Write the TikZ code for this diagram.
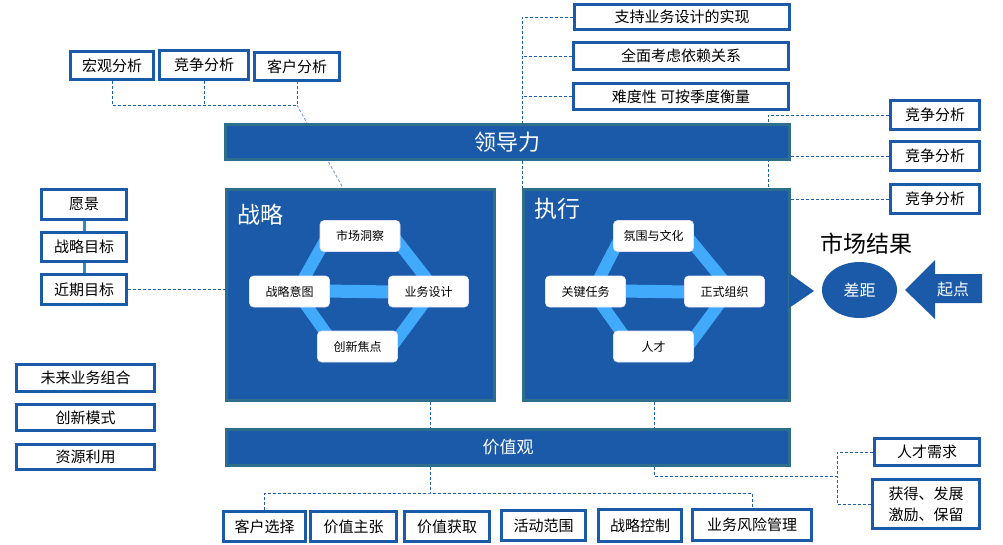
\documentclass[tikz,border=0pt]{standalone}
\usepackage{fontspec}
\setmainfont{Noto Sans CJK SC}
\usetikzlibrary{shapes.geometric}

\definecolor{lanse}{RGB}{26,90,168}
\definecolor{qingse}{RGB}{45,110,140}
\definecolor{qianlan}{RGB}{66,170,250}
\definecolor{xuxian}{RGB}{32,96,176}
\definecolor{xielan}{RGB}{100,150,215}
\definecolor{lianjie}{RGB}{46,139,192}

\pgfdeclarelayer{xuceng}
\pgfdeclarelayer{diceng}
\pgfdeclarelayer{daiceng}
\pgfsetlayers{xuceng,diceng,daiceng,main}

\begin{document}
\begin{tikzpicture}[
    x=1pt, y=-1pt,
    kuang/.style={draw=lanse, line width=3pt, fill=white, inner sep=0pt, align=center, font=\fontsize{15}{21}\selectfont},
    chicun/.style 2 args={minimum width=#1pt, minimum height=#2pt},
    tiao/.style={draw=qingse, line width=3pt, fill=lanse, text=white, inner sep=0pt},
    yuan/.style={fill=white, draw=blue!12, line width=0.6pt, rounded corners=4pt, inner sep=0pt, minimum width=80pt, minimum height=31pt, font=\fontsize{12}{14}\selectfont},
    dai/.style={qianlan, line width=12pt},
    xu/.style={xuxian, line width=0.8pt, dash pattern=on 3pt off 2pt},
    biaoti/.style={text=white, font=\fontsize{23}{26}\selectfont, anchor=west, inner sep=0pt}
  ]
    \useasboundingbox (0,0) rectangle (1003,544);

    % --- LEADERSHIP / STRATEGY / EXECUTION / VALUES ---
    \begin{pgfonlayer}{diceng}
    \node[tiao, chicun={564}{35}, font=\fontsize{22}{24}\selectfont] (ld) at (507.5,142) {领导力};
    \node[tiao, chicun={268}{211}] (zl) at (360.5,295) {};
    \node[tiao, chicun={266}{211}] (zx) at (656.5,295) {};
    \node[tiao, chicun={563}{36}, font=\fontsize{17}{20}\selectfont] (jzg) at (508,447.5) {价值观};
    \fill[lanse] (789,273) -- (814,291) -- (789,308) -- cycle; % arrow to market result
    \end{pgfonlayer}

    \node[biaoti] (zlbt) at (237,215) {战略};
    \node[biaoti] (zxbt) at (534,209) {执行};

    % inner loops
    \node[yuan] (sc) at (360,236) {市场洞察};
    \node[yuan] (yt) at (289.5,291.5) {战略意图};
    \node[yuan] (ys) at (428.5,291.5) {业务设计};
    \node[yuan] (cx) at (357.5,346.5) {创新焦点};

    \node[yuan] (fw) at (653.5,236) {氛围与文化};
    \node[yuan] (gj) at (585.5,291.5) {关键任务};
    \node[yuan] (zs) at (724.5,291.5) {正式组织};
    \node[yuan] (rc) at (653.5,346.5) {人才};

    \begin{pgfonlayer}{daiceng}
    \foreach \t/\l/\r/\b in {sc/yt/ys/cx, fw/gj/zs/rc} {
        \draw[dai] ([xshift=8pt]\t.west) -- ([xshift=7pt]\l.center);
        \draw[dai] ([xshift=-7pt]\t.east) -- ([xshift=8pt]\r.center);
        \draw[dai] ([xshift=7pt]\l.center) -- ([xshift=-22pt]\b.center);
        \draw[dai] ([xshift=4pt]\r.center) -- ([xshift=-6pt]\b.east);
        \draw[dai, line width=13pt] ([yshift=1pt]\l.center) -- ([yshift=-1pt]\r.center);
    }
    \end{pgfonlayer}

    % --- ANALYSIS BOXES (top left) ---
    \node[kuang, chicun={83}{28}] (hg) at (112,65.5) {宏观分析};
    \node[kuang, chicun={89}{29}] (jz) at (204,65) {竞争分析};
    \node[kuang, chicun={85}{28}] (kh) at (297,66.5) {客户分析};

    % --- DESIGN NOTES (top center) ---
    \node[kuang, chicun={215}{25}] (zc1) at (682,17) {支持业务设计的实现};
    \node[kuang, chicun={215}{27}] (zc2) at (681,56) {全面考虑依赖关系};
    \node[kuang, chicun={215}{26}] (zc3) at (681,96.5) {难度性\ 可按季度衡量};

    % right
    \foreach \i/\y in {1/115, 2/156, 3/199}
        \node[kuang, chicun={89}{29}] (jr\i) at (935,\y) {竞争分析};

    % --- GOALS (left) ---
    \node[kuang, chicun={85}{30}] (yj) at (84,204.5) {愿景};
    \node[kuang, chicun={85}{29}] (zm) at (84,247) {战略目标};
    \node[kuang, chicun={85}{30}] (jq) at (84,289.5) {近期目标};

    \node[kuang, chicun={138}{27}] (wl) at (85.5,378) {未来业务组合};
    \node[kuang, chicun={138}{26}] (cm) at (85.5,417.5) {创新模式};
    \node[kuang, chicun={138}{25}] (zy) at (85.5,457) {资源利用};

    % --- BUSINESS DESIGN ITEMS (bottom) ---
    \node[kuang, chicun={82}{30}] (kx) at (264.5,526.5) {客户选择};
    \node[kuang, chicun={86}{30}] (jzz) at (353.5,526.5) {价值主张};
    \node[kuang, chicun={85}{30}] (jzh) at (447,526.5) {价值获取};
    \node[kuang, chicun={84}{30}] (hd) at (543.5,525.5) {活动范围};
    \node[kuang, chicun={83}{32}] (zk) at (640,525.5) {战略控制};
    \node[kuang, chicun={119}{31}] (fx) at (752,525) {业务风险管理};

    % talent
    \node[kuang, chicun={105}{27}] (rq) at (927,452) {人才需求};
    \node[kuang, chicun={107}{49}] (hdfz) at (926,504) {获得、发展\\激励、保留};

    % --- MARKET RESULT ---
    \node[font=\fontsize{23}{26}\selectfont, inner sep=0pt] (scjg) at (866,244) {市场结果};
    \node[ellipse, fill=lanse, minimum width=75pt, minimum height=56pt, inner sep=0pt,
          text=white, font=\fontsize{16}{18}\selectfont] (cj) at (859.5,290) {差距};
    \fill[lanse] (905,290) -- (935,260) -- (935,274) -- (982,274) -- (982,303) -- (935,303) -- (935,319) -- cycle;
    \node[text=white, font=\fontsize{16}{18}\selectfont, inner sep=0pt] (qd) at (953,289) {起点};

    % --- DASHED LINKS (behind the bars) ---
    \begin{pgfonlayer}{xuceng}
    \coordinate (tlj) at (297,105);
    \coordinate (zlr) at (343,188);
    \draw[xu] (hg.south) |- (tlj) -- (kh.south);
    \draw[xu] (jz.south) -- (jz.south |- tlj);
    \draw[xu, xielan] (tlj) -- (zlr);

    \draw[xu] (zc1.west) -| (zx.north west);
    \draw[xu] (zc2.west) -- (zc2.west -| zx.north west);
    \draw[xu] (zc3.west) -- (zc3.west -| zx.north west);

    \coordinate (jrz) at (768,188);
    \draw[xu] (jr1.west) -| (jrz);
    \draw[xu] (jr2.west) -- (jr2.west -| ld.east);
    \draw[xu] (jr3.west) -- (jr3.west -| zx.east);

    \draw[lianjie, line width=3pt] (yj.south) -- (zm.north);
    \draw[lianjie, line width=3pt] (zm.south) -- (jq.north);
    \draw[xu] (jq.east) -- (jq.east -| zl.west);

    \coordinate (zld) at (430,493);
    \draw[xu] (zld |- zl.south) -- (zld);
    \draw[xu] (kx.north) |- (zld) -| (fx.north);

    \coordinate (zxd) at (654,476);
    \coordinate (rcz) at (837,476);
    \draw[xu] (zxd |- zx.south) -- (zxd) -- (rcz);
    \draw[xu] (rq.west) -| (rcz);
    \draw[xu] (hdfz.west) -| (rcz);
    \end{pgfonlayer}

\end{tikzpicture}
\end{document}
